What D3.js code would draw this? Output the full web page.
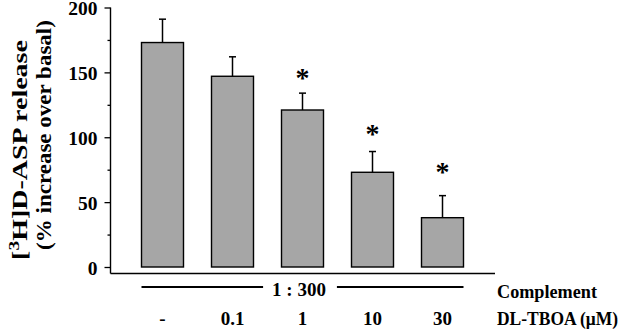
<!DOCTYPE html>
<html>
<head>
<meta charset="utf-8">
<script src="https://cdn.jsdelivr.net/npm/d3@7/dist/d3.min.js"></script>
<style>
  html, body { margin: 0; padding: 0; background: #fff; }
  svg { display: block; }
</style>
</head>
<body>
<svg id="chart" width="622" height="330"></svg>
<script>
// ---- data ----
const categories = ["-", "0.1", "1", "10", "30"];
const means = [173, 147, 121, 73, 38];
const sems = [18, 15, 13, 16, 17];
const significant = [false, false, true, true, true];
const starLevels = [null, null, 147, 104, 75];
const yTicksMajor = [0, 50, 100, 150, 200];
const yTicksMinor = [25, 75, 125, 175];
const complementLabel = "1 : 300";
const rowLabels = ["Complement", "DL-TBOA (\u03BCM)"];
const yTitle1 = "D-ASP release";
const yTitle2 = "(% increase over basal)";

// ---- layout ----
const FONT = "'Liberation Serif', 'Times New Roman', serif";
const svg = d3.select("#chart");
const axisX = 110.5;
const y = d3.scaleLinear().domain([0, 200]).range([267, 7.5]);
const x = d3.scaleBand().domain(categories).range([127.5, 477.5]).paddingInner(0.4).paddingOuter(0.2);
const baseY = 273.5;

function txt(sel) {
  return sel.style("font-family", FONT).style("font-weight", "bold").attr("fill", "#000");
}

// axis lines
svg.append("line").attr("x1", axisX).attr("x2", axisX).attr("y1", y(200)).attr("y2", baseY)
  .attr("stroke", "#000").attr("stroke-width", 1.4);
svg.append("line").attr("x1", axisX).attr("x2", 495).attr("y1", baseY).attr("y2", baseY)
  .attr("stroke", "#000").attr("stroke-width", 1.4);

// y axis ticks
const ga = svg.append("g").attr("transform", `translate(${axisX},0)`)
  .call(d3.axisLeft(y).tickValues(yTicksMajor).tickSize(6).tickPadding(7).tickFormat(d3.format("d")));
ga.select(".domain").remove();
ga.selectAll(".tick line").attr("stroke", "#000").attr("stroke-width", 1.3);
txt(ga.selectAll(".tick text")).attr("font-size", 19.5).attr("dy", "0.36em");
const gm = svg.append("g").attr("transform", `translate(${axisX},0)`)
  .call(d3.axisLeft(y).tickValues(yTicksMinor).tickSize(3).tickFormat(""));
gm.select(".domain").remove();
gm.selectAll(".tick line").attr("stroke", "#000").attr("stroke-width", 1.3);

// bars
svg.selectAll("rect.bar").data(means).join("rect").attr("class", "bar")
  .attr("x", (d, i) => x(categories[i]))
  .attr("width", x.bandwidth())
  .attr("y", d => y(d))
  .attr("height", d => y(0) - y(d))
  .attr("fill", "#a6a6a6").attr("stroke", "#000").attr("stroke-width", 1.4);

// error bars (upper only) and stars
means.forEach((m, i) => {
  const cx = x(categories[i]) + x.bandwidth() / 2;
  svg.append("line").attr("x1", cx).attr("x2", cx).attr("y1", y(m)).attr("y2", y(m + sems[i]))
    .attr("stroke", "#000").attr("stroke-width", 1.5);
  svg.append("line").attr("x1", cx - 3.5).attr("x2", cx + 3.5).attr("y1", y(m + sems[i])).attr("y2", y(m + sems[i]))
    .attr("stroke", "#000").attr("stroke-width", 1.5);
  if (significant[i]) {
    txt(svg.append("text")).attr("x", cx).attr("y", y(starLevels[i]) + 11)
      .attr("text-anchor", "middle").attr("font-size", 28).text("*");
  }
});

// y title (stretched along its length to match the reference)
function fitRotated(sel, cx, cy, target) {
  const len = sel.node().getComputedTextLength();
  sel.attr("transform", `translate(${cx},${cy}) rotate(-90) scale(${target / len},1)`);
}
const t1 = txt(svg.append("text")).attr("text-anchor", "middle").attr("font-size", 20);
t1.append("tspan").text("[");
t1.append("tspan").attr("font-size", 14).attr("dy", -8).text("3");
t1.append("tspan").attr("dy", 8).text("H]" + yTitle1);
fitRotated(t1, 27, 150, 220);
const t2 = txt(svg.append("text")).attr("text-anchor", "middle").attr("font-size", 20).text(yTitle2);
fitRotated(t2, 51, 135, 230);

// complement line
const xl = x(categories[0]);
const xr = x(categories[categories.length - 1]) + x.bandwidth();
const cLabel = txt(svg.append("text")).attr("x", 299).attr("y", 296).attr("text-anchor", "middle")
  .attr("font-size", 19).text(complementLabel);
const bb = cLabel.node().getBBox();
svg.append("line").attr("x1", xl).attr("x2", bb.x - 9).attr("y1", 287).attr("y2", 287)
  .attr("stroke", "#000").attr("stroke-width", 2.2);
svg.append("line").attr("x1", bb.x + bb.width + 11).attr("x2", xr).attr("y1", 287).attr("y2", 287)
  .attr("stroke", "#000").attr("stroke-width", 2.2);

// dose labels
txt(svg.selectAll("text.dose").data(categories).join("text").attr("class", "dose"))
  .attr("x", d => x(d) + x.bandwidth() / 2).attr("y", 325)
  .attr("text-anchor", "middle").attr("font-size", 19).text(d => d);

// row labels
txt(svg.append("text")).attr("x", 497).attr("y", 297.5).attr("font-size", 19)
  .attr("textLength", 100).attr("lengthAdjust", "spacingAndGlyphs").text(rowLabels[0]);
txt(svg.append("text")).attr("x", 497).attr("y", 325).attr("font-size", 18.5)
  .attr("textLength", 121).attr("lengthAdjust", "spacingAndGlyphs").text(rowLabels[1]);
</script>
</body>
</html>
